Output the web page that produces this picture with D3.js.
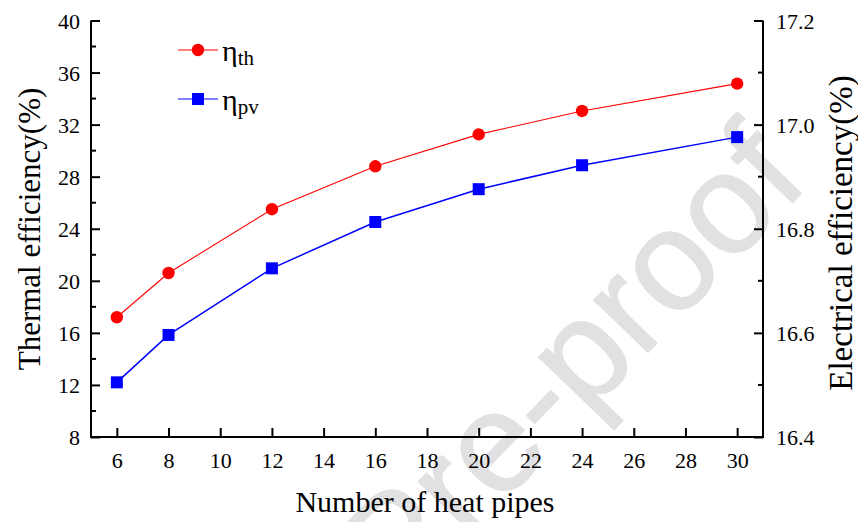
<!DOCTYPE html>
<html>
<head>
<meta charset="utf-8">
<script src="https://cdn.jsdelivr.net/npm/d3@7"></script>
<style>
  html, body { margin: 0; padding: 0; background: #fff; }
  svg { display: block; }
  text { font-family: "Liberation Serif", "Times New Roman", serif; fill: #000; }
</style>
</head>
<body>
<svg id="chart" width="858" height="522"></svg>
<script>
// Heat pipe count on the x axis
const pipeCounts = [6, 8, 12, 16, 20, 24, 30];
// Thermal efficiency (%), left axis
const thermalEff = [17.2, 20.6, 25.5, 28.8, 31.25, 33.05, 35.15];
// Electrical efficiency (%), right axis
const electricalEff = [16.505, 16.596, 16.724, 16.813, 16.876, 16.922, 16.976];

const xTicks = [6, 8, 10, 12, 14, 16, 18, 20, 22, 24, 26, 28, 30];
const yLeftTicks = [8, 12, 16, 20, 24, 28, 32, 36, 40];
const yLeftMinor = [10, 14, 18, 22, 26, 30, 34, 38];
const yRightTicks = [16.4, 16.6, 16.8, 17.0, 17.2];
const yRightMinor = [16.5, 16.7, 16.9, 17.1];

const svg = d3.select("#chart");
const plotLeft = 91, plotRight = 763, plotTop = 20.5, plotBottom = 437;

const x = d3.scaleLinear().domain([5, 31]).range([plotLeft, plotRight]);
const yL = d3.scaleLinear().domain([8, 40]).range([plotBottom, plotTop]);
const yR = d3.scaleLinear().domain([16.4, 17.2]).range([plotBottom, plotTop]);

// faint diagonal stamp behind the plot
svg.append("text")
  .attr("transform", "translate(400,609) rotate(-46)")
  .style("font-family", "'Liberation Sans', Arial, sans-serif")
  .style("font-size", "142px")
  .style("fill", "#e1e1e3")
  .style("stroke", "#e1e1e3")
  .style("stroke-width", 1.5)
  .text("Pre-proof");

const tickFont = 22;

// bottom axis
const gx = svg.append("g").attr("transform", `translate(0,${plotBottom})`)
  .call(d3.axisBottom(x).tickValues(xTicks).tickSize(-9).tickFormat(d3.format("d")));
gx.select(".domain").remove();
gx.selectAll(".tick line").attr("stroke", "#000").attr("stroke-width", 2);
gx.selectAll(".tick text").remove();
gx.selectAll(".tick").append("text")
  .attr("transform", "translate(0,30.5)")
  .attr("text-anchor", "middle")
  .style("font-size", tickFont + "px")
  .text(d => d);

// left axis
const gl = svg.append("g").attr("transform", `translate(${plotLeft},0)`)
  .call(d3.axisLeft(yL).tickValues(yLeftTicks).tickSize(-9));
gl.select(".domain").remove();
gl.selectAll(".tick line").attr("stroke", "#000").attr("stroke-width", 2);
gl.selectAll(".tick text").remove();
gl.selectAll(".tick").append("text")
  .attr("transform", "translate(-11,7.5)")
  .attr("text-anchor", "end")
  .style("font-size", tickFont + "px")
  .text(d => d);
gl.selectAll(".minor").data(yLeftMinor).enter().append("line")
  .attr("x1", 0).attr("x2", 5)
  .attr("y1", d => yL(d)).attr("y2", d => yL(d))
  .attr("stroke", "#000").attr("stroke-width", 2);

// right axis
const gr = svg.append("g").attr("transform", `translate(${plotRight},0)`)
  .call(d3.axisRight(yR).tickValues(yRightTicks).tickSize(-9));
gr.select(".domain").remove();
gr.selectAll(".tick line").attr("stroke", "#000").attr("stroke-width", 2);
gr.selectAll(".tick text").remove();
gr.selectAll(".tick").append("text")
  .attr("transform", "translate(13,7.5)")
  .attr("text-anchor", "start")
  .style("font-size", tickFont + "px")
  .text(d => d3.format(".1f")(d));
gr.selectAll(".minor").data(yRightMinor).enter().append("line")
  .attr("x1", 0).attr("x2", -5)
  .attr("y1", d => yR(d)).attr("y2", d => yR(d))
  .attr("stroke", "#000").attr("stroke-width", 2);

// axis lines
const frame = svg.append("g").attr("stroke", "#000").attr("stroke-width", 2).attr("fill", "none");
frame.append("path").attr("d", `M${plotLeft},${plotTop}V${plotBottom}H${plotRight}V${plotTop}`);

// axis titles
svg.append("text")
  .attr("transform", "translate(425,512)")
  .attr("text-anchor", "middle")
  .style("font-size", "30px")
  .text("Number of heat pipes");
svg.append("text")
  .attr("transform", "translate(40,229) rotate(-90)")
  .attr("text-anchor", "middle")
  .style("font-size", "31px")
  .text("Thermal efficiency(%)");
svg.append("text")
  .attr("transform", "translate(852,233) rotate(-90)")
  .attr("text-anchor", "middle")
  .style("font-size", "33px")
  .text("Electrical efficiency(%)");

// series
const pts = pipeCounts.map((n, i) => ({ n, th: thermalEff[i], pv: electricalEff[i] }));

svg.append("path").datum(pts)
  .attr("fill", "none").attr("stroke", "#ff0000").attr("stroke-width", 1.1)
  .attr("d", d3.line().x(d => x(d.n)).y(d => yL(d.th)));
svg.append("path").datum(pts)
  .attr("fill", "none").attr("stroke", "#0000ff").attr("stroke-width", 1.5)
  .attr("d", d3.line().x(d => x(d.n)).y(d => yR(d.pv)));

svg.append("g").selectAll("circle").data(pts).enter().append("circle")
  .attr("cx", d => x(d.n)).attr("cy", d => yL(d.th)).attr("r", 6.2)
  .attr("fill", "#ff0000");
const sq = 12;
svg.append("g").selectAll("rect").data(pts).enter().append("rect")
  .attr("x", d => x(d.n) - sq / 2).attr("y", d => yR(d.pv) - sq / 2)
  .attr("width", sq).attr("height", sq)
  .attr("fill", "#0000ff");

// legend
const legend = svg.append("g");
const items = [
  { y: 50, color: "#ff0000", shape: "circle", sub: "th" },
  { y: 99, color: "#0000ff", shape: "square", sub: "pv" }
];
items.forEach(it => {
  legend.append("line").attr("x1", 178).attr("x2", 218).attr("y1", it.y).attr("y2", it.y)
    .attr("stroke", it.color).attr("stroke-width", 1.2);
  if (it.shape === "circle") {
    legend.append("circle").attr("cx", 198).attr("cy", it.y).attr("r", 6.2).attr("fill", it.color);
  } else {
    legend.append("rect").attr("x", 198 - sq / 2).attr("y", it.y - sq / 2)
      .attr("width", sq).attr("height", sq).attr("fill", it.color);
  }
  const t = legend.append("text")
    .attr("transform", `translate(222,${it.y + 11})`)
    .style("font-size", "30px");
  t.append("tspan").text("η");
  t.append("tspan").attr("dy", 4).style("font-size", "21px").text(it.sub);
});
</script>
</body>
</html>
